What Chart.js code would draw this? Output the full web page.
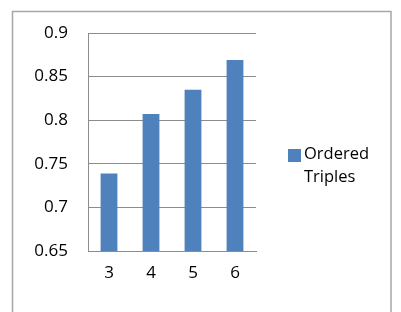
<!DOCTYPE html>
<html>
<head>
<meta charset="utf-8">
<script src="https://cdn.jsdelivr.net/npm/chart.js@4/dist/chart.umd.min.js"></script>
<style>
  html, body { margin: 0; padding: 0; background: #fff; }
  #wrap { width: 401px; height: 312px; position: relative; }
</style>
</head>
<body>
<div id="wrap"><canvas id="chart" width="401" height="312"></canvas></div>
<script>
// data
const categories = ['3', '4', '5', '6'];
const seriesName = 'Ordered Triples';
const seriesValues = [0.739, 0.807, 0.835, 0.869];
const yMin = 0.65;
const yMax = 0.9;
const yStep = 0.05;

const barColor = '#4f81bd';
const gridColor = '#8c8c8c';
const fontFamily = "'Open Sans', 'Liberation Sans', sans-serif";

Chart.defaults.font.family = fontFamily;
Chart.defaults.font.size = 17;
Chart.defaults.color = '#000';

// outer frame + white background
const framePlugin = {
  id: 'frame',
  beforeDraw(chart) {
    const ctx = chart.ctx;
    ctx.save();
    ctx.fillStyle = '#fff';
    ctx.fillRect(0, 0, chart.width, chart.height);
    ctx.strokeStyle = '#a6a6a6';
    ctx.lineWidth = 1.5;
    ctx.strokeRect(12.5, 11.5, 378.5, 330);
    ctx.restore();
  }
};

// legend drawn by hand so the label can wrap onto two lines
const sideLegend = {
  id: 'sideLegend',
  afterDraw(chart) {
    const ctx = chart.ctx;
    const ds = chart.data.datasets[0];
    const words = ds.label.split(' ');
    ctx.save();
    ctx.fillStyle = ds.backgroundColor;
    ctx.fillRect(288, 149, 13, 13);
    ctx.fillStyle = '#000';
    ctx.font = '16.5px ' + fontFamily;
    ctx.textBaseline = 'middle';
    ctx.textAlign = 'left';
    ctx.fillText(words[0], 304, 154);
    ctx.fillText(words.slice(1).join(' '), 304, 177);
    ctx.restore();
  }
};

new Chart(document.getElementById('chart'), {
  type: 'bar',
  data: {
    labels: categories,
    datasets: [{
      label: seriesName,
      data: seriesValues,
      backgroundColor: barColor,
      borderWidth: 0,
      categoryPercentage: 1,
      barPercentage: 0.4
    }]
  },
  options: {
    responsive: false,
    animation: false,
    layout: { padding: { top: 33, left: 0, right: 145, bottom: 0 } },
    plugins: {
      legend: { display: false },
      tooltip: { enabled: false }
    },
    scales: {
      x: {
        grid: { display: false, drawTicks: false },
        border: { color: gridColor, width: 1 },
        ticks: {
          color: '#000',
          font: { size: 17 },
          padding: 12
        },
        afterFit(scale) { scale.height = 61; }
      },
      y: {
        min: yMin,
        max: yMax,
        ticks: {
          stepSize: yStep,
          color: '#000',
          font: { size: 17 },
          padding: 20,
          callback: v => String(+v.toFixed(2))
        },
        grid: { color: gridColor, drawTicks: false },
        border: { color: gridColor, width: 1 },
        afterFit(scale) { scale.width = 88; }
      }
    }
  },
  plugins: [framePlugin, sideLegend]
});
</script>
</body>
</html>
